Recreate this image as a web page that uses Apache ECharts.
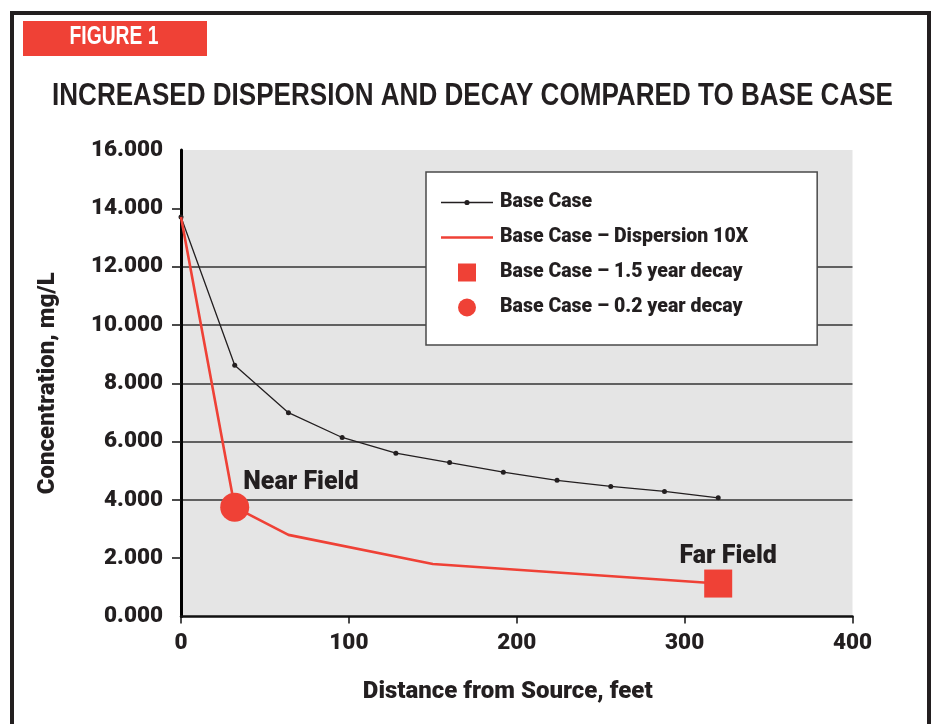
<!DOCTYPE html>
<html>
<head>
<meta charset="utf-8">
<script src="https://cdn.jsdelivr.net/npm/echarts@6/dist/echarts.min.js"></script>
<style>
html,body{margin:0;padding:0;background:#fff;}
#chart{width:931px;height:724px;}
</style>
</head>
<body>
<div id="chart"></div>
<script>
// ---- data ----
const baseCaseX = [0, 32, 64, 96, 128, 160, 192, 224, 256, 288, 320];
const baseCaseY = [13.7, 8.62, 6.99, 6.14, 5.6, 5.28, 4.95, 4.67, 4.46, 4.29, 4.07];
const dispersionX = [0, 32, 64, 150, 320];
const dispersionY = [13.7, 3.75, 2.8, 1.8, 1.13];
const decay15X = [320];
const decay15Y = [1.13];
const decay02X = [32];
const decay02Y = [3.75];
const seriesNames = ['Base Case', 'Base Case \u2013 Dispersion 10X', 'Base Case \u2013 1.5 year decay', 'Base Case \u2013 0.2 year decay'];
const pointLabels = ['Near Field', 'Far Field'];
const yTicks = [0, 2, 4, 6, 8, 10, 12, 14, 16];
const xTicks = [0, 100, 200, 300, 400];
const titleText = 'INCREASED DISPERSION AND DECAY COMPARED TO BASE CASE';
const figureLabel = 'FIGURE 1';
const xAxisName = 'Distance from Source, feet';
const yAxisName = 'Concentration, mg/L';

const FONT = 'Roboto, "Liberation Sans", sans-serif';
const HFONT = '"Liberation Sans", Arial, sans-serif';
const RED = '#ef4136';
const INK = '#231f20';
const W = 900;

function zip(xs, ys) { return xs.map((x, i) => [x, ys[i]]); }

// horizontal compression for the condensed-looking headings
const mctx = document.createElement('canvas').getContext('2d');
function widthOf(text, font) { mctx.font = font; return mctx.measureText(text).width; }
const titleFont = 'bold 32px ' + HFONT;
const figFont = 'bold 25px ' + HFONT;
const titleScale = 841 / widthOf(titleText, titleFont);
const figScale = 89 / widthOf(figureLabel, figFont);

const chart = echarts.init(document.getElementById('chart'), null, {renderer: 'canvas'});
chart.setOption({
  backgroundColor: '#ffffff',
  animation: false,
  graphic: [
    {type: 'rect', shape: {x: 12, y: 13, width: 917, height: 740}, style: {fill: 'none', stroke: INK, lineWidth: 4}, z: 100},
    {type: 'rect', shape: {x: 23, y: 21, width: 184, height: 35}, style: {fill: RED}},
    {type: 'text', x: 114, y: 37, scaleX: figScale, style: {text: figureLabel, fill: '#fff', font: figFont, textAlign: 'center', textVerticalAlign: 'middle'}},
    {type: 'text', x: 472.5, y: 96, scaleX: titleScale, style: {text: titleText, fill: INK, font: titleFont, textAlign: 'center', textVerticalAlign: 'middle'}}
  ],
  grid: {left: 181, top: 150, width: 671.5, height: 466.5, show: true, backgroundColor: '#e5e5e5', borderWidth: 0, containLabel: false},
  legend: {
    orient: 'vertical',
    left: 426, top: 172,
    padding: [20.5, 69, 27.5, 15],
    itemGap: 15,
    itemWidth: 52, itemHeight: 18,
    backgroundColor: '#fff',
    borderColor: '#4a4a4a', borderWidth: 1.5,
    textStyle: {fontFamily: FONT, fontWeight: W, fontSize: 19.5, color: INK, padding: [0, 0, 0, 2]},
    data: [
      {name: seriesNames[0], icon: 'path://M0,6.75 L24,6.75 L24,8.25 L0,8.25 Z M28,6.75 L52,6.75 L52,8.25 L28,8.25 Z M23.4,7.5 A2.6,2.6 0 1 1 28.6,7.5 A2.6,2.6 0 1 1 23.4,7.5 Z'},
      {name: seriesNames[1], icon: 'path://M0,0 L52,0 L52,2.6 L0,2.6 Z'},
      {name: seriesNames[2], icon: 'path://M0,0 L10,0 L10,10 L0,10 Z'},
      {name: seriesNames[3], icon: 'circle'}
    ]
  },
  xAxis: {
    type: 'value', min: 0, max: 400, interval: 100,
    name: xAxisName, nameLocation: 'middle', nameGap: 63,
    nameTextStyle: {fontFamily: FONT, fontWeight: W, fontSize: 24, color: INK, padding: [0, 18, 0, 0]},
    axisLine: {show: true, onZero: false, lineStyle: {color: '#111', width: 2.5}},
    axisTick: {show: true, length: 7, lineStyle: {color: '#111', width: 1.5}},
    axisLabel: {fontFamily: FONT, fontWeight: W, fontSize: 22.5, color: INK, margin: 15},
    splitLine: {show: false}
  },
  yAxis: {
    type: 'value', min: 0, max: 16, interval: 2,
    name: yAxisName, nameLocation: 'middle', nameGap: 121,
    nameTextStyle: {fontFamily: FONT, fontWeight: W, fontSize: 24, color: INK},
    axisLine: {show: true, onZero: false, lineStyle: {color: '#000', width: 3}},
    axisTick: {show: true, length: 9, lineStyle: {color: '#111', width: 1.5}, customValues: yTicks.slice(1, -1)},
    axisLabel: {fontFamily: FONT, fontWeight: W, fontSize: 22.5, color: INK, margin: 18, formatter: v => v.toFixed(3)},
    splitLine: {show: true, showMinLine: false, showMaxLine: false, lineStyle: {color: '#333', width: 1.5}}
  },
  series: [
    {
      name: seriesNames[0], type: 'line', data: zip(baseCaseX, baseCaseY),
      symbol: 'circle', symbolSize: 5, showSymbol: true,
      itemStyle: {color: INK}, lineStyle: {color: INK, width: 1.3}, z: 3
    },
    {
      name: seriesNames[1], type: 'line', data: zip(dispersionX, dispersionY),
      showSymbol: false, symbol: 'none',
      itemStyle: {color: RED}, lineStyle: {color: RED, width: 2.6}, z: 4
    },
    {
      name: seriesNames[2], type: 'scatter', data: zip(decay15X, decay15Y),
      symbol: 'rect', symbolSize: 28, itemStyle: {color: RED, opacity: 1}, z: 5,
      label: {show: true, formatter: pointLabels[1], position: [24, -13], align: 'center', verticalAlign: 'middle',
        fontFamily: FONT, fontWeight: W, fontSize: 25, color: INK}
    },
    {
      name: seriesNames[3], type: 'scatter', data: zip(decay02X, decay02Y),
      symbol: 'circle', symbolSize: 29, itemStyle: {color: RED, opacity: 1}, z: 5,
      label: {show: true, formatter: pointLabels[0], position: [23, -10], align: 'left', verticalAlign: 'middle',
        fontFamily: FONT, fontWeight: W, fontSize: 25, color: INK}
    }
  ]
});
</script>
</body>
</html>
